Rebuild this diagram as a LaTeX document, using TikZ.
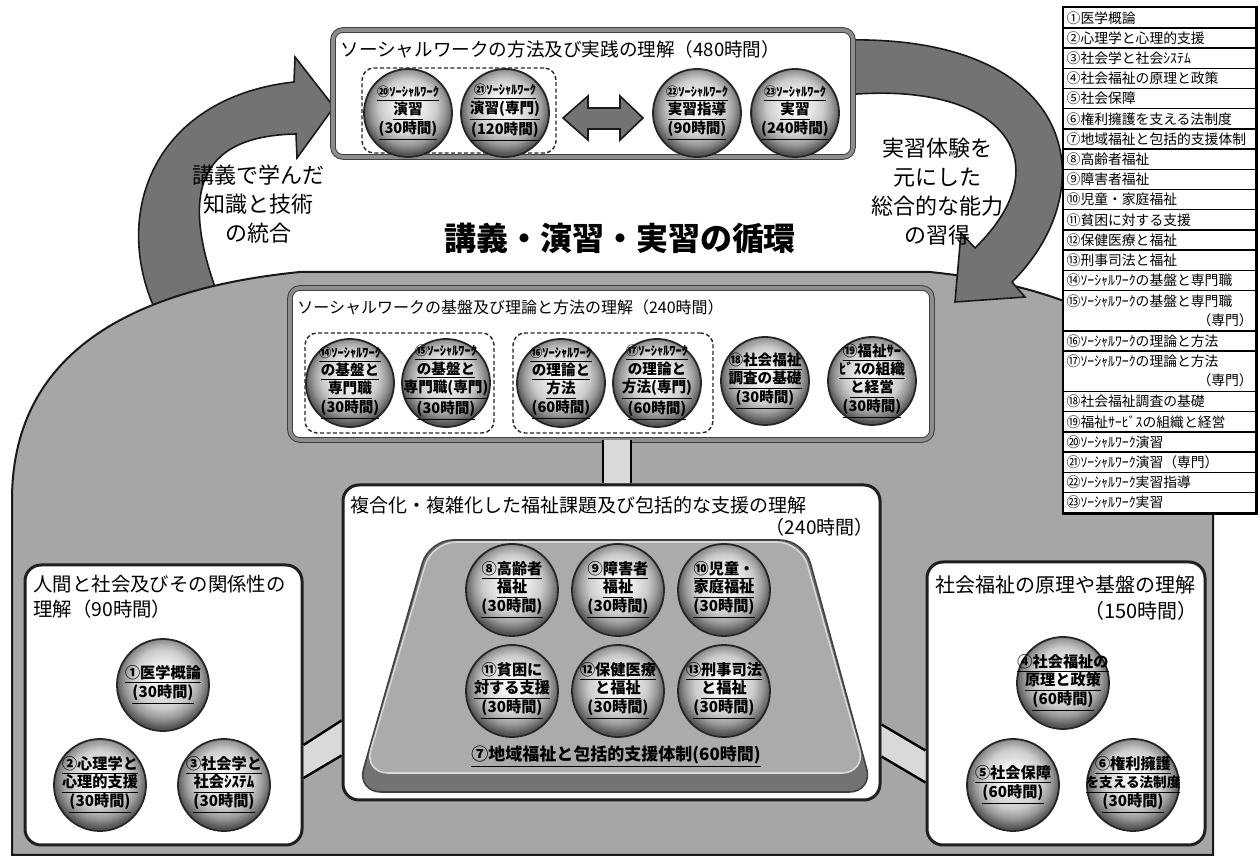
\documentclass[tikz,border=0pt]{standalone}
\usepackage{fontspec}
\setmainfont{Noto Sans CJK JP}
\usetikzlibrary{fit,calc}
\pgfdeclareradialshading{sphere}{\pgfpoint{0bp}{5bp}}{color(0bp)=(white); color(7bp)=(black!6); color(16bp)=(black!20); color(21bp)=(black!40); color(26bp)=(black!68); color(29bp)=(black!45); color(50bp)=(black!45)}
\newcommand\ulx[1]{\underline{#1}}
\newcommand\swk[1]{\underline{{\fontsize{6.2}{8}\selectfont #1ｿｰｼｬﾙﾜｰｸ}}}
\begin{document}
\begin{tikzpicture}[x=0.5pt,y=-0.5pt,
  arrowfill/.style={fill=black!55, draw=black!90, line width=0.8pt},
  domefill/.style={fill=black!35, draw=black!90, line width=1pt},
  graybox/.style={draw=black!75, double=black!45, double distance=1.8pt, line width=0.5pt, fill=white, rounded corners=5pt, inner sep=0pt},
  whitebox/.style={draw=black!88, line width=1.5pt, fill=white, rounded corners=8pt, inner sep=0pt},
  dashbox/.style={draw=black!85, dash pattern=on 2pt off 1.2pt, line width=0.7pt, rounded corners=6pt, inner sep=0pt},
  ballnode/.style={circle, minimum size=44pt, inner sep=-8pt, shade, shading=sphere, draw=black!85, line width=0.9pt, align=center, font=\bfseries\fontsize{7.3}{9.2}\selectfont},
  bigball/.style={ballnode, minimum size=46pt, font=\bfseries\fontsize{7.6}{9.4}\selectfont},
  band/.style={fill=black!15},
  bandline/.style={draw=black, line width=1.2pt},
  legrow/.style={draw=black, line width=0.7pt, fill=white, anchor=north west, minimum width=96pt, minimum height=10.1pt, text width=93pt, inner xsep=1.5pt, inner ysep=0pt, align=left, font=\fontsize{6.9}{9.5}\selectfont},
  boxtitle/.style={inner sep=0pt, font=\fontsize{9.5}{12.5}\selectfont},
  armtext/.style={align=center, inner sep=0pt, font=\fontsize{11}{14.5}\selectfont}
]
\useasboundingbox (0,0) rectangle (1260,860);
\fill[white] (0,0) rectangle (1260,860);

% left curved arrow (under the dome)
\filldraw[arrowfill] (160,320) .. controls (108,220) and (150,98) .. (294,82)
  -- (295,57) -- (334,107) -- (297,158) -- (296,134)
  .. controls (200,136) and (172,190) .. (228,320) -- cycle;

% dome
\filldraw[domefill] (12,855) -- (12,500) .. controls (12,360) and (120,290) .. (300,272)
  -- (930,272) .. controls (1105,290) and (1213,360) .. (1213,500) -- (1213,855) -- cycle;

% right curved arrow
\filldraw[arrowfill] (845,95) .. controls (1000,80) and (1065,160) .. (975,248)
  -- (961,233) -- (955,302) -- (1025,297) -- (1012,282)
  .. controls (1105,190) and (1080,35) .. (845,40) -- cycle;

% arrow texts and title
\node[armtext] (ltxt) at (258,204) {講義で学んだ\\知識と技術\\の統合};
\node[armtext] (rtxt) at (937,192) {実習体験を\\元にした\\総合的な能力\\の習得};
\node[inner sep=0pt, font=\bfseries\fontsize{16}{19}\selectfont] (title) at (620,238) {講義・演習・実習の循環};

% ---------- top box ----------
\node[graybox, fit={(333,30) (853,157)}] (boxTop) {};
\node[boxtitle, anchor=west, font=\fontsize{9.3}{12}\selectfont] (tTop) at (340,49) {ソーシャルワークの方法及び実践の理解（480時間）};
\node[dashbox, fit={(362,68) (556,153)}] (d1) {};
\node[ballnode] (s20) at (408,113) {\swk{⑳}\\\ulx{演習}\\\ulx{(30時間)}};
\node[ballnode] (s21) at (505,113) {\swk{㉑}\\\ulx{演習(専門)}\\\ulx{(120時間)}};
\node[ballnode] (s22) at (697,113) {\swk{㉒}\\\ulx{実習指導}\\\ulx{(90時間)}};
\node[ballnode] (s23) at (795,113) {\swk{㉓}\\\ulx{実習}\\\ulx{(240時間)}};
\coordinate (dc) at (603,118);
\filldraw[arrowfill] ($(dc)+(-40,0)$) -- ($(dc)+(-15,-22)$) -- ($(dc)+(-15,-10)$) -- ($(dc)+(17,-10)$)
  -- ($(dc)+(17,-22)$) -- ($(dc)+(40,0)$) -- ($(dc)+(17,22)$) -- ($(dc)+(17,11)$)
  -- ($(dc)+(-15,11)$) -- ($(dc)+(-15,22)$) -- cycle;

% ---------- second box ----------
\node[graybox, fit={(290,288) (932,440)}] (boxSW) {};
\node[boxtitle, anchor=west, font=\fontsize{8}{10}\selectfont] (tSW) at (297,307) {ソーシャルワークの基盤及び理論と方法の理解（240時間）};
\node[dashbox, fit={(305,333) (494,433)}] (d2) {};
\node[dashbox, fit={(513,333) (713,433)}] (d3) {};
\node[ballnode] (s14) at (350,383) {\swk{⑭}\\\ulx{の基盤と}\\\ulx{専門職}\\\ulx{(30時間)}};
\node[ballnode] (s15) at (446,383) {\swk{⑮}\\\ulx{の基盤と}\\\ulx{専門職(専門)}\\\ulx{(30時間)}};
\node[ballnode] (s16) at (561,383) {\swk{⑯}\\\ulx{の理論と}\\\ulx{方法}\\\ulx{(60時間)}};
\node[ballnode] (s17) at (657,383) {\swk{⑰}\\\ulx{の理論と}\\\ulx{方法(専門)}\\\ulx{(60時間)}};
\node[ballnode] (s18) at (765,381) {\ulx{⑱社会福祉}\\\ulx{調査の基礎}\\\ulx{(30時間)}};
\node[ballnode] (s19) at (872,381) {\ulx{⑲福祉ｻｰ}\\\ulx{ﾋﾞｽの組織}\\\ulx{と経営}\\\ulx{(30時間)}};

% ---------- middle box ----------
\node[whitebox, fit={(343,485) (880,800)}] (boxMid) {};
\node[boxtitle, anchor=west] (tMid) at (350,505) {複合化・複雑化した福祉課題及び包括的な支援の理解};
\node[boxtitle, anchor=east] (tMid2) at (874,527) {（240時間）};
\filldraw[fill=black!55, draw=black!75, line width=0.8pt, rounded corners=12pt] (429,540) -- (804,540) -- (873,792) -- (357,792) -- cycle;
\filldraw[fill=black!33, draw=black!15, line width=0.8pt, rounded corners=12pt] (432,542) -- (801,542) -- (866,773) -- (364,773) -- cycle;
\node[bigball] (s8) at (512,590) {\ulx{⑧高齢者}\\\ulx{福祉}\\\ulx{(30時間)}};
\node[bigball] (s9) at (618,590) {\ulx{⑨障害者}\\\ulx{福祉}\\\ulx{(30時間)}};
\node[bigball] (s10) at (724,590) {\ulx{⑩児童・}\\\ulx{家庭福祉}\\\ulx{(30時間)}};
\node[bigball] (s11) at (512,691) {\ulx{⑪貧困に}\\\ulx{対する支援}\\\ulx{(30時間)}};
\node[bigball] (s12) at (618,691) {\ulx{⑫保健医療}\\\ulx{と福祉}\\\ulx{(30時間)}};
\node[bigball] (s13) at (724,691) {\ulx{⑬刑事司法}\\\ulx{と福祉}\\\ulx{(30時間)}};
\node[inner sep=0pt, font=\bfseries\fontsize{8.5}{10}\selectfont] (s7) at (616,757) {\ulx{⑦地域福祉と包括的支援体制(60時間)}};

% ---------- left box ----------
\node[whitebox, fit={(25,565) (302,845)}] (boxL) {};
\node[boxtitle, anchor=north west, align=left, font=\fontsize{9.7}{12.5}\selectfont] (tL) at (33,575) {人間と社会及びその関係性の\\理解（90時間）};
\node[bigball] (s1) at (163,685) {\ulx{①医学概論}\\\ulx{(30時間)}};
\node[bigball] (s2) at (100,785) {\ulx{②心理学と}\\\ulx{心理的支援}\\\ulx{(30時間)}};
\node[bigball] (s3) at (224,785) {\ulx{③社会学と}\\\ulx{社会ｼｽﾃﾑ}\\\ulx{(30時間)}};

% ---------- right box ----------
\node[whitebox, fit={(927,562) (1205,845)}] (boxR) {};
\node[boxtitle, anchor=west, font=\fontsize{10}{12.5}\selectfont] (tR) at (935,585) {社会福祉の原理や基盤の理解};
\node[boxtitle, anchor=east, font=\fontsize{10}{12.5}\selectfont] (tR2) at (1198,611) {（150時間）};
\node[bigball] (s4) at (1063,683) {\ulx{④社会福祉の}\\\ulx{原理と政策}\\\ulx{(60時間)}};
\node[bigball] (s5) at (1013,785) {\ulx{⑤社会保障}\\\ulx{(60時間)}};
\node[bigball] (s6) at (1133,785) {\ulx{⑥権利擁護}\\\ulx{\fontsize{6.8}{9.2}\selectfont を支える法制度}\\\ulx{(30時間)}};

% ---------- connecting bands ----------
\coordinate (vx1) at (603,0);
\coordinate (vx2) at (631,0);
\fill[band] (boxSW.south -| vx1) rectangle (boxMid.north -| vx2);
\draw[bandline] (boxSW.south -| vx1) -- (boxMid.north -| vx1);
\draw[bandline] (boxSW.south -| vx2) -- (boxMid.north -| vx2);

\fill[band] ($(boxL.east)+(0,40)$) -- ($(boxMid.west)+(0,78)$) -- ($(boxMid.west)+(0,113)$) -- ($(boxL.east)+(0,73)$) -- cycle;
\draw[bandline] ($(boxL.east)+(0,40)$) -- ($(boxMid.west)+(0,78)$);
\draw[bandline] ($(boxL.east)+(0,73)$) -- ($(boxMid.west)+(0,113)$);

\fill[band] ($(boxMid.east)+(0,82)$) -- ($(boxR.west)+(0,47)$) -- ($(boxR.west)+(0,79)$) -- ($(boxMid.east)+(0,114)$) -- cycle;
\draw[bandline] ($(boxMid.east)+(0,82)$) -- ($(boxR.west)+(0,47)$);
\draw[bandline] ($(boxMid.east)+(0,114)$) -- ($(boxR.west)+(0,79)$);

% ---------- legend ----------
\foreach \t/\r [count=\i] in {①医学概論/0, ②心理学と心理的支援/1, ③社会学と社会ｼｽﾃﾑ/2, ④社会福祉の原理と政策/3, ⑤社会保障/4, ⑥権利擁護を支える法制度/5, ⑦地域福祉と包括的支援体制/6, ⑧高齢者福祉/7, ⑨障害者福祉/8, ⑩児童・家庭福祉/9, ⑪貧困に対する支援/10, ⑫保健医療と福祉/11, ⑬刑事司法と福祉/12, ⑭ｿｰｼｬﾙﾜｰｸの基盤と専門職/13, ⑯ｿｰｼｬﾙﾜｰｸの理論と方法/16, ⑱社会福祉調査の基礎/19, ⑲福祉ｻｰﾋﾞｽの組織と経営/20, ⑳ｿｰｼｬﾙﾜｰｸ演習/21, ㉑ｿｰｼｬﾙﾜｰｸ演習（専門）/22, ㉒ｿｰｼｬﾙﾜｰｸ実習指導/23, ㉓ｿｰｼｬﾙﾜｰｸ実習/24}
  \node[legrow] (L\i) at (1063,{7+\r*20.2}) {\t};
\node[legrow, minimum height=20.2pt] (L15) at (1063,{7+14*20.2}) {⑮ｿｰｼｬﾙﾜｰｸの基盤と専門職\\\mbox{}\hfill（専門）};
\node[legrow, minimum height=20.2pt] (L17) at (1063,{7+17*20.2}) {⑰ｿｰｼｬﾙﾜｰｸの理論と方法\\\mbox{}\hfill（専門）};
\draw[line width=1.2pt] (L1.north west) rectangle (L21.south east);
\end{tikzpicture}
\end{document}
